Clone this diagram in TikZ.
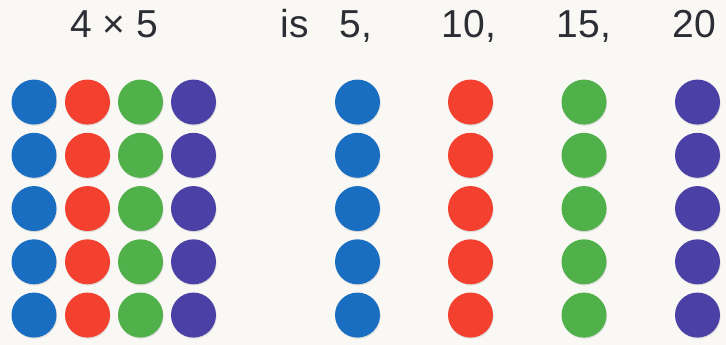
\documentclass[tikz,border=0pt]{standalone}
\usepackage{fontspec}
\setmainfont{Liberation Sans}
\usetikzlibrary{shadows}

\definecolor{pagebg}{HTML}{F9F8F5}
\definecolor{dotblue}{HTML}{1A6EC2}
\definecolor{dotred}{HTML}{F4402F}
\definecolor{dotgreen}{HTML}{50B04A}
\definecolor{dotpurple}{HTML}{4B40A6}
\definecolor{inkgray}{HTML}{2B2E34}

\begin{document}
\begin{tikzpicture}[x=1pt, y=-1pt, font=\fontsize{39}{39}\selectfont,
  dot/.style={circle, fill=#1, minimum size=45pt, inner sep=0pt,
    drop shadow={opacity=0.22, shadow xshift=0.6pt, shadow yshift=-1.2pt}},
  lbl/.style={anchor=base, text=inkgray}]

  \fill[pagebg] (0,0) rectangle (726,345);
  \useasboundingbox (0,0) rectangle (726,345);

  % the 4 x 5 block
  \foreach \c/\x/\col in {1/34/dotblue, 2/87.5/dotred, 3/140.5/dotgreen, 4/193.5/dotpurple} {
    \foreach \r in {1,...,5} {
      \node[dot=\col] (b\c-\r) at (\x, 48.8+53.25*\r) {};
    }
  }

  % the same dots, one column at a time
  \foreach \c/\x/\col in {1/357.5/dotblue, 2/470.5/dotred, 3/584/dotgreen, 4/697.5/dotpurple} {
    \foreach \r in {1,...,5} {
      \node[dot=\col] (s\c-\r) at (\x, 48.8+53.25*\r) {};
    }
  }

  \node[lbl] (prod) at (114, 37.3) {4 × 5};
  \node[lbl] (is) at (295, 37.3) {is};
  \node[lbl] (five) at (356, 37.3) {5,};
  \node[lbl] (ten) at (469, 37.3) {10,};
  \node[lbl] (fifteen) at (584, 37.3) {15,};
  \node[lbl] (twenty) at (694.5, 37.3) {20};

\end{tikzpicture}
\end{document}
